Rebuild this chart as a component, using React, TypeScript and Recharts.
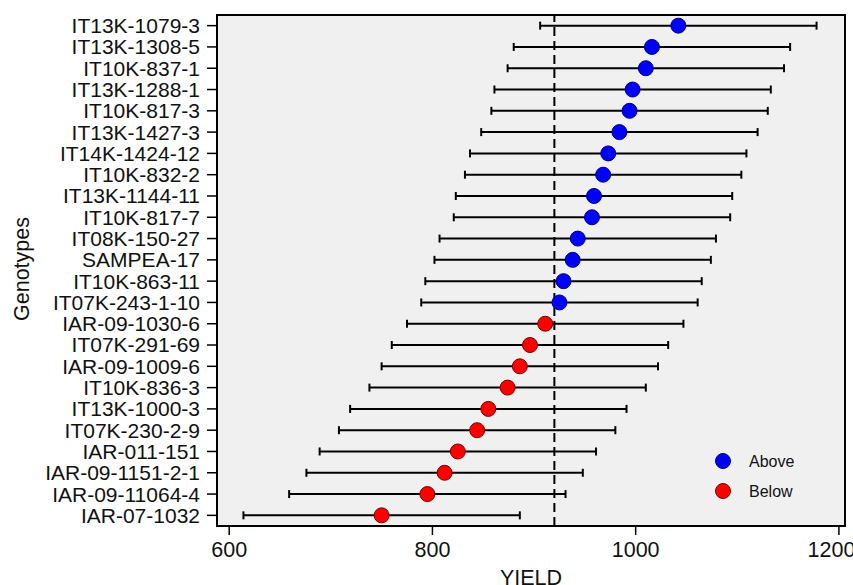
import { ComposedChart, Scatter, ErrorBar, XAxis, YAxis, CartesianGrid, ReferenceLine, ReferenceArea, Legend } from "recharts";

const genotypes = [
  "IT13K-1079-3", "IT13K-1308-5", "IT10K-837-1", "IT13K-1288-1", "IT10K-817-3", "IT13K-1427-3",
  "IT14K-1424-12", "IT10K-832-2", "IT13K-1144-11", "IT10K-817-7", "IT08K-150-27", "SAMPEA-17",
  "IT10K-863-11", "IT07K-243-1-10", "IAR-09-1030-6", "IT07K-291-69", "IAR-09-1009-6", "IT10K-836-3",
  "IT13K-1000-3", "IT07K-230-2-9", "IAR-011-151", "IAR-09-1151-2-1", "IAR-09-11064-4", "IAR-07-1032",
];
const yields = [1042, 1016, 1010, 997, 994, 984, 973, 968, 959, 957, 943, 938, 929, 925, 911, 896, 886, 874, 855, 844, 825, 812, 795, 750];
const ciHalf = [136, 136, 136, 136, 136, 136, 136, 136, 136, 136, 136, 136, 136, 136, 136, 136, 136, 136, 136, 136, 136, 136, 136, 136];
const groups = [
  "Above", "Above", "Above", "Above", "Above", "Above", "Above", "Above", "Above", "Above", "Above", "Above", "Above", "Above",
  "Below", "Below", "Below", "Below", "Below", "Below", "Below", "Below", "Below", "Below",
];
const meanYield = 920;
const xTicks = [600, 800, 1000, 1200];
const legendItems = ["Above", "Below"];

const FONT = "'Liberation Sans', Arial, sans-serif";
const FILL: Record<string, string> = { Above: "#0000ff", Below: "#ff0000" };
const EDGE: Record<string, string> = { Above: "#000080", Below: "#7a0000" };

const data = genotypes.map((name, i) => ({ name, value: yields[i], err: ciHalf[i], group: groups[i] }));

function Dot(p: any) {
  const g = p.payload.group;
  return <circle cx={p.cx} cy={p.cy} r={7.5} fill={FILL[g]} stroke={EDGE[g]} strokeWidth={1} />;
}

function LegendBox() {
  return (
    <svg width={110} height={60}>
      {legendItems.map((g, i) => (
        <g key={g}>
          <circle cx={11} cy={12 + i * 30} r={7.5} fill={FILL[g]} stroke={EDGE[g]} strokeWidth={1} />
          <text x={37} y={12 + i * 30} dominantBaseline="central" fontSize={16} fontFamily={FONT} fill="#111">{g}</text>
        </g>
      ))}
    </svg>
  );
}

export default function App() {
  return (
    <div style={{ width: 853, height: 585, position: "relative" }}>
      <style>{"body{margin:0}"}</style>
      <ComposedChart
        width={853}
        height={585}
        data={data}
        layout="vertical"
        margin={{ top: 15, right: 8, left: 0, bottom: 0 }}
      >
        <CartesianGrid fill="#f0f0f0" horizontal={false} vertical={false} />
        <XAxis
          type="number"
          domain={[588, 1206]}
          allowDataOverflow
          ticks={xTicks}
          height={59}
          tickSize={9}
          tickMargin={7}
          axisLine={{ stroke: "#000", strokeWidth: 2 }}
          tickLine={{ stroke: "#000", strokeWidth: 1.5 }}
          tick={{ fill: "#111", fontSize: 21.5, fontFamily: FONT }}
          label={{
            content: () => (
              <text x={531} y={585} textAnchor="middle" fontSize={21.5} fontFamily={FONT} fill="#111">YIELD</text>
            ),
          }}
        />
        <YAxis
          type="category"
          dataKey="name"
          scale="band"
          width={217}
          interval={0}
          tickSize={10}
          tickMargin={7}
          axisLine={{ stroke: "#000", strokeWidth: 2 }}
          tickLine={{ stroke: "#000", strokeWidth: 1.5 }}
          tick={{ fill: "#111", fontSize: 21, fontFamily: FONT }}
          label={{
            content: () => (
              <text x={22} y={269} transform="rotate(-90 22 269)" textAnchor="middle" dominantBaseline="central" fontSize={21.5} fontFamily={FONT} fill="#111">Genotypes</text>
            ),
          }}
        />
        <ReferenceArea x1={588} x2={1206} fill="none" stroke="#000" strokeWidth={2} ifOverflow="visible" />
        <ReferenceLine x={meanYield} stroke="#000" strokeWidth={2} strokeDasharray="9 5" />
        <Scatter dataKey="value" shape={Dot} isAnimationActive={false}>
          <ErrorBar dataKey="err" direction="x" width={4} stroke="#000" strokeWidth={2} isAnimationActive={false} />
        </Scatter>
        <Legend
          layout="vertical"
          align="center"
          verticalAlign="middle"
          content={() => <LegendBox />}
          wrapperStyle={{ left: 712, top: 449, width: 110, height: 60 }}
        />
      </ComposedChart>
    </div>
  );
}
